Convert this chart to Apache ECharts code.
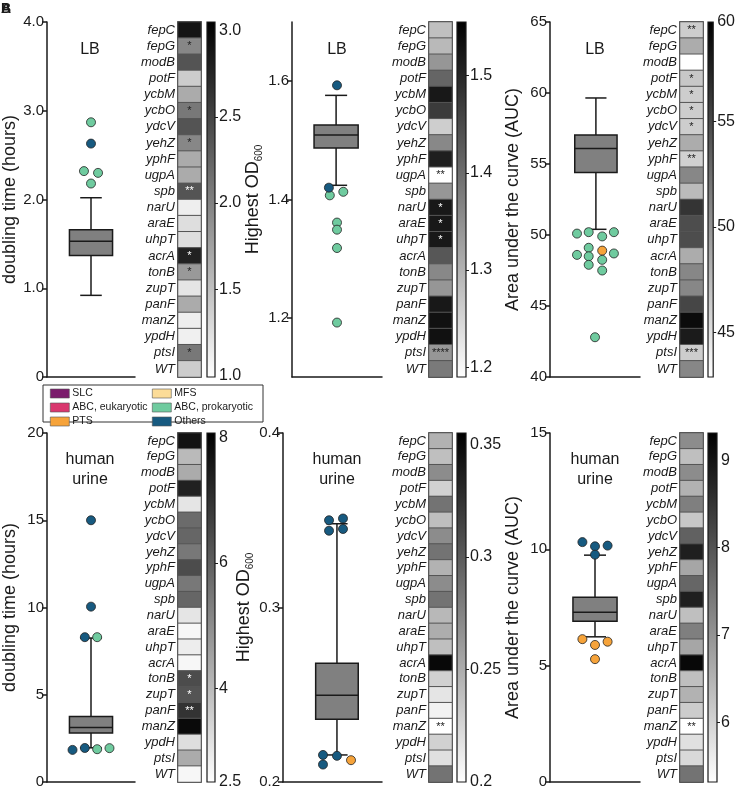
<!DOCTYPE html>
<html>
<head>
<meta charset="utf-8">
<script src="https://cdn.jsdelivr.net/npm/echarts@6/dist/echarts.min.js"></script>
<style>
html,body{margin:0;padding:0;background:#fff}
#main{width:738px;height:792px}
</style>
</head>
<body>
<div id="main"></div>
<script>
// ---- data ----
var genes = ['fepC','fepG','modB','potF','ycbM','ycbO','ydcV','yehZ','yphF','ugpA','spb',
             'narU','araE','uhpT','acrA','tonB','zupT','panF','manZ','ypdH','ptsI','WT'];

// heatmap values (mean per mutant)
var hmLbDt  = [2.90,1.96,2.37,1.40,1.67,2.08,2.37,1.96,1.67,1.67,2.37,1.13,1.26,1.26,2.78,1.81,1.20,1.67,1.13,1.11,2.08,1.40];
var hmLbOd  = [1.28,1.29,1.34,1.41,1.52,1.47,1.26,1.36,1.51,1.19,1.34,1.52,1.52,1.52,1.43,1.36,1.34,1.52,1.53,1.53,1.34,1.38];
var hmLbAuc = [46.2,48.4,42.9,46.6,46.2,46.2,46.2,48.4,45.9,50.8,47.4,56.3,54.6,54.6,48.4,50.8,50.8,55.1,59.0,57.9,46.2,50.8];
var hmUrDt  = [7.69,4.00,4.34,7.35,3.06,5.74,5.85,5.46,6.41,5.46,5.85,3.06,2.67,2.89,2.67,6.41,6.24,6.96,7.86,3.23,4.34,2.67];
var hmUrOd  = [0.247,0.239,0.270,0.228,0.285,0.239,0.270,0.285,0.247,0.270,0.285,0.243,0.250,0.239,0.350,0.228,0.216,0.208,0.200,0.228,0.219,0.285];
var hmUrAuc = [7.12,6.32,7.12,6.52,7.32,6.20,7.79,8.83,6.72,7.71,8.83,6.32,7.32,6.72,9.19,6.32,6.52,6.12,5.32,5.80,5.92,7.51];

// significance marks per mutant
var stLbDt  = ['','*','','','','*','','*','','','**','','','','*','*','','','','','*',''];
var stLbOd  = ['','','','','','','','','','**','','*','*','*','','','','','','','****',''];
var stLbAuc = ['**','','','*','*','*','*','','**','','','','','','','','','','','','***',''];
var stUrDt  = ['','','','','','','','','','','','','','','','*','*','**','','','',''];
var stUrOd  = ['','','','','','','','','','','','','','','','','','','**','','',''];
var stUrAuc = ['','','','','','','','','','','','','','','','','','','**','','',''];

// box stats [low whisker, Q1, median, Q3, high whisker]
var boxLbDt  = [0.92, 1.37, 1.53, 1.66, 2.02];
var boxLbOd  = [1.424, 1.487, 1.509, 1.526, 1.576];
var boxLbAuc = [50.4, 54.4, 56.1, 57.05, 59.65];
var boxUrDt  = [1.96, 2.81, 3.13, 3.75, 8.25];
var boxUrOd  = [0.2155, 0.236, 0.2497, 0.268, 0.348];
var boxUrAuc = [6.24, 6.91, 7.30, 7.94, 9.75];

// outliers [x (0-1 across panel), value, transporter class]
var outLbDt = [[0.5,2.87,'ABC, prokaryotic'],[0.5,2.63,'Others'],[0.42,2.32,'ABC, prokaryotic'],
               [0.58,2.30,'ABC, prokaryotic'],[0.5,2.18,'ABC, prokaryotic']];
var outLbOd = [[0.5,1.593,'Others'],[0.41,1.420,'Others'],[0.42,1.407,'ABC, prokaryotic'],
               [0.57,1.413,'ABC, prokaryotic'],[0.5,1.361,'ABC, prokaryotic'],[0.5,1.349,'ABC, prokaryotic'],
               [0.5,1.318,'ABC, prokaryotic'],[0.5,1.192,'ABC, prokaryotic']];
var outLbAuc = [[0.3,50.1,'ABC, prokaryotic'],[0.43,50.2,'ABC, prokaryotic'],[0.58,49.9,'ABC, prokaryotic'],
                [0.71,50.2,'ABC, prokaryotic'],[0.43,49.1,'ABC, prokaryotic'],[0.58,48.9,'PTS'],
                [0.3,48.6,'ABC, prokaryotic'],[0.43,48.5,'ABC, prokaryotic'],[0.71,48.7,'ABC, prokaryotic'],
                [0.58,48.25,'ABC, prokaryotic'],[0.43,47.9,'ABC, prokaryotic'],[0.58,47.5,'ABC, prokaryotic'],
                [0.5,42.8,'ABC, prokaryotic']];
var outUrDt = [[0.5,15.0,'Others'],[0.5,10.05,'Others'],[0.43,8.3,'Others'],[0.57,8.3,'ABC, prokaryotic'],
               [0.29,1.84,'Others'],[0.43,1.95,'Others'],[0.57,1.88,'ABC, prokaryotic'],[0.71,1.94,'ABC, prokaryotic']];
var outUrOd = [[0.465,0.350,'Others'],[0.606,0.351,'Others'],[0.465,0.344,'Others'],[0.606,0.345,'Others'],
               [0.404,0.2155,'Others'],[0.545,0.215,'Others'],[0.404,0.210,'Others'],[0.687,0.2125,'PTS']];
var outUrAuc = [[0.36,10.31,'Others'],[0.5,10.13,'Others'],[0.64,10.16,'Others'],[0.5,9.77,'Others'],
                [0.36,6.14,'PTS'],[0.5,5.89,'PTS'],[0.64,6.03,'PTS'],[0.5,5.28,'PTS']];

// axis ticks
var yTicks = [[0,1,2,3,4],[1.2,1.4,1.6],[40,45,50,55,60,65],[0,5,10,15,20],[0.2,0.3,0.4],[0,5,10,15]];
var yRange = [[0,4],[1.1,1.7],[40,65],[0,20],[0.2,0.4],[0,15]];
var cbRange = [[0.99,3.05],[1.19,1.555],[42.9,59.7],[2.5,8.08],[0.2,0.355],[5.32,9.31]];
var cbLabels = [[1.0,1.5,2.0,2.5,3.0],[1.2,1.3,1.4,1.5],[45,50,55,59.7],[2.5,4,6,8],[0.2,0.25,0.3,0.35],[6,7,8,9]];
var cbTicks = [[1.5,2.0,2.5],[1.2,1.3,1.4,1.5],[45,50,55],[4,6],[0.25,0.3],[6,7,8]];

var classes = ['SLC','ABC, eukaryotic','PTS','MFS','ABC, prokaryotic','Others'];
var classColors = {'SLC':'#7b1c6c','ABC, eukaryotic':'#d9376e','PTS':'#f6a33a','MFS':'#fcdc98',
                   'ABC, prokaryotic':'#6fcb9f','Others':'#175a80'};

// ---- layout ----
var FONT = '"Liberation Sans", Arial, Helvetica, sans-serif';
var INK = '#1a1a1a';
var panels = [
  {hm:hmLbDt, st:stLbDt, box:boxLbDt, out:outLbDt, name:'doubling time (hours)', fmt:function(v){return v===0?'0':v.toFixed(1);},
   cbFmt:function(v){return v.toFixed(1);}, top:22, h:355, boxL:45, boxW:90, bw:0.49, hmL:178, cbL:207, cbW:8},
  {hm:hmLbOd, st:stLbOd, box:boxLbOd, out:outLbOd, name:'{a|Highest OD}{s|600}', fmt:function(v){return v.toFixed(1);},
   cbFmt:function(v){return v.toFixed(1);}, top:22, h:355, boxL:292, boxW:90, bw:0.49, hmL:429, cbL:457, cbW:9},
  {hm:hmLbAuc, st:stLbAuc, box:boxLbAuc, out:outLbAuc, name:'Area under the curve (AUC)', fmt:function(v){return String(v);},
   cbFmt:function(v){return String(Math.round(v));}, top:22, h:355, boxL:550, boxW:90, bw:0.47, hmL:680, cbL:708, cbW:9},
  {hm:hmUrDt, st:stUrDt, box:boxUrDt, out:outUrDt, name:'doubling time (hours)', fmt:function(v){return String(v);},
   cbFmt:function(v){return String(v);}, top:433, h:349, boxL:45, boxW:90, bw:0.49, hmL:178, cbL:207, cbW:8},
  {hm:hmUrOd, st:stUrOd, box:boxUrOd, out:outUrOd, name:'{a|Highest OD}{s|600}', fmt:function(v){return v.toFixed(1);},
   cbFmt:function(v){return String(v);}, top:433, h:349, boxL:283, boxW:99, bw:0.43, hmL:429, cbL:457, cbW:9},
  {hm:hmUrAuc, st:stUrAuc, box:boxUrAuc, out:outUrAuc, name:'Area under the curve (AUC)', fmt:function(v){return String(v);},
   cbFmt:function(v){return String(v);}, top:433, h:349, boxL:550, boxW:90, bw:0.49, hmL:680, cbL:708, cbW:9}
];
var boxCenters = [0.5, 0.49, 0.51, 0.5, 0.545, 0.5];

function renderBox(params, api) {
  var x = api.value(0);
  var lo = api.coord([x, api.value(1)]);
  var q1 = api.coord([x, api.value(2)]);
  var md = api.coord([x, api.value(3)]);
  var q3 = api.coord([x, api.value(4)]);
  var hi = api.coord([x, api.value(5)]);
  var bw = api.size([panels[params.context.pi].bw, 0])[0];
  var cx = lo[0];
  var st = {stroke: INK, lineWidth: 1.5, fill: null};
  return {type: 'group', children: [
    {type: 'line', shape: {x1: cx, y1: hi[1], x2: cx, y2: q3[1]}, style: st},
    {type: 'line', shape: {x1: cx, y1: q1[1], x2: cx, y2: lo[1]}, style: st},
    {type: 'line', shape: {x1: cx - bw / 4, y1: hi[1], x2: cx + bw / 4, y2: hi[1]}, style: st},
    {type: 'line', shape: {x1: cx - bw / 4, y1: lo[1], x2: cx + bw / 4, y2: lo[1]}, style: st},
    {type: 'rect', shape: {x: cx - bw / 2, y: q3[1], width: bw, height: q1[1] - q3[1]},
     style: {fill: '#808080', stroke: INK, lineWidth: 1.5}},
    {type: 'line', shape: {x1: cx - bw / 2, y1: md[1], x2: cx + bw / 2, y2: md[1]}, style: st}
  ]};
}

function renderBar(params, api) {
  var a = api.coord([0, api.value(1)]);
  var b = api.coord([0, api.value(2)]);
  var w = api.size([1, 0])[0];
  return {type: 'rect', shape: {x: a[0] - w / 2, y: b[1], width: w, height: a[1] - b[1]},
    style: {fill: new echarts.graphic.LinearGradient(0, 0, 0, 1, [{offset: 0, color: '#000'}, {offset: 1, color: '#fff'}]),
            stroke: INK, lineWidth: 1.2}};
}

var grid = [], xAxis = [], yAxis = [], series = [], visualMap = [], graphic = [];

panels.forEach(function (p, pi) {
  var g0 = grid.length;
  grid.push({left: p.boxL, top: p.top, width: p.boxW, height: p.h});
  grid.push({left: p.hmL, top: p.top, width: 23, height: p.h, show: true, borderColor: INK, borderWidth: 1.5});
  grid.push({left: p.cbL, top: p.top, width: p.cbW, height: p.h});

  // box plot axes
  xAxis.push({gridIndex: g0, type: 'value', min: 0, max: 1,
    axisLine: {show: true, onZero: false, lineStyle: {color: INK, width: 1.5}},
    axisTick: {show: false}, axisLabel: {show: false}, splitLine: {show: false}});
  yAxis.push({gridIndex: g0, type: 'value', min: yRange[pi][0], max: yRange[pi][1],
    name: p.name, nameLocation: 'middle', nameRotate: 90, nameGap: 28,
    nameTextStyle: {fontSize: 18, color: INK, fontFamily: FONT,
      rich: {a: {fontSize: 18, color: INK, fontFamily: FONT, lineHeight: 22},
             s: {fontSize: 10, color: INK, fontFamily: FONT, verticalAlign: 'bottom', lineHeight: 10}}},
    axisLine: {show: true, onZero: false, lineStyle: {color: INK, width: 1.5}},
    axisTick: {show: true, length: 5, customValues: yTicks[pi], lineStyle: {color: INK, width: 1.5}},
    axisLabel: {customValues: yTicks[pi], fontSize: 15, color: INK, margin: 3, fontFamily: FONT, formatter: p.fmt},
    splitLine: {show: false}});

  // heatmap axes
  xAxis.push({gridIndex: g0 + 1, type: 'category', data: ['m'], show: false});
  yAxis.push({gridIndex: g0 + 1, type: 'category', data: genes, inverse: true,
    axisLine: {show: false}, axisTick: {show: false}, splitLine: {show: false},
    axisLabel: {fontSize: 13, fontStyle: 'italic', color: INK, margin: 3, fontFamily: FONT, interval: 0}});

  // colour bar axes
  xAxis.push({gridIndex: g0 + 2, type: 'category', data: ['c'], show: false});
  yAxis.push({gridIndex: g0 + 2, type: 'value', position: 'right', min: cbRange[pi][0], max: cbRange[pi][1],
    axisLine: {show: false}, splitLine: {show: false},
    axisTick: {show: true, length: 3, customValues: cbTicks[pi], lineStyle: {color: INK, width: 1}},
    axisLabel: {customValues: cbLabels[pi], fontSize: 16, color: INK, margin: 4, fontFamily: FONT, formatter: p.cbFmt}});

  // box
  series.push({type: 'custom', xAxisIndex: g0, yAxisIndex: g0, renderItem: function (params, api) {
      params.context.pi = pi; return renderBox(params, api); },
    encode: {x: 0, y: [1, 2, 3, 4, 5]}, z: 2,
    data: [[boxCenters[pi]].concat(p.box)]});

  // outliers, one series per class
  classes.forEach(function (c) {
    var pts = p.out.filter(function (d) { return d[2] === c; });
    if (!pts.length && !(pi === 0)) return;
    series.push({type: 'scatter', name: c, xAxisIndex: g0, yAxisIndex: g0, z: 5,
      symbolSize: 9, color: classColors[c],
      itemStyle: {color: classColors[c], borderColor: '#222', borderWidth: 0.8, opacity: 1},
      data: pts.map(function (d) { return [d[0], d[1]]; })});
  });

  // heatmap
  var lo = cbRange[pi][0], hi = cbRange[pi][1];
  var hmIndex = series.length;
  series.push({type: 'heatmap', xAxisIndex: g0 + 1, yAxisIndex: g0 + 1,
    itemStyle: {borderColor: '#555', borderWidth: 1},
    label: {show: true, fontSize: 11, fontFamily: FONT, formatter: function (q) { return p.st[q.value[1]]; }},
    emphasis: {disabled: true},
    data: p.hm.map(function (v, i) {
      var dark = (v - lo) / (hi - lo) > 0.6;
      return {value: [0, i, v], label: {color: dark ? '#fff' : '#222'}};
    })});
  visualMap.push({type: 'continuous', show: false, seriesIndex: hmIndex, dimension: 2,
    min: lo, max: hi, inRange: {color: ['#ffffff', '#000000']}});

  // colour bar
  series.push({type: 'custom', xAxisIndex: g0 + 2, yAxisIndex: g0 + 2, renderItem: renderBar,
    encode: {x: 0, y: [1, 2]}, data: [[0, lo, hi]]});
});

// panel titles
var titleX = [90, 337, 595];
titleX.forEach(function (x) {
  graphic.push({type: 'text', x: x, y: 50, style: {text: 'LB', fontSize: 16, fontFamily: FONT, fill: INK,
    align: 'center', verticalAlign: 'middle'}});
  graphic.push({type: 'text', x: x, y: 470, style: {text: 'human\nurine', fontSize: 16, lineHeight: 20,
    fontFamily: FONT, fill: INK, align: 'center', verticalAlign: 'middle'}});
});
graphic.push({type: 'text', x: 1, y: 2, style: {text: 'A', fontSize: 14, fontWeight: 'bold', fontFamily: FONT, fill: INK}});
graphic.push({type: 'text', x: 1, y: 2, style: {text: 'B', fontSize: 14, fontWeight: 'bold', fontFamily: FONT, fill: INK}});
graphic.push({type: 'rect', z: -1, shape: {x: 43, y: 385, width: 220, height: 37},
  style: {fill: '#fff', stroke: '#333', lineWidth: 1}});

var legendBase = {orient: 'vertical', padding: 0, itemWidth: 19, itemHeight: 9, itemGap: 3, icon: 'rect', selectedMode: false,
  textStyle: {fontSize: 10.5, color: INK, fontFamily: FONT, padding: [0, 0, 0, -2]},
  itemStyle: {borderColor: '#555', borderWidth: 0.6}};

var chart = echarts.init(document.getElementById('main'));
chart.setOption({
  animation: false,
  backgroundColor: '#fff',
  textStyle: {fontFamily: FONT},
  grid: grid, xAxis: xAxis, yAxis: yAxis, series: series, visualMap: visualMap, graphic: graphic,
  legend: [
    Object.assign({left: 50, top: 388, data: ['SLC', 'ABC, eukaryotic', 'PTS']}, legendBase),
    Object.assign({left: 152, top: 388, data: ['MFS', 'ABC, prokaryotic', 'Others']}, legendBase)
  ]
});
</script>
</body>
</html>
